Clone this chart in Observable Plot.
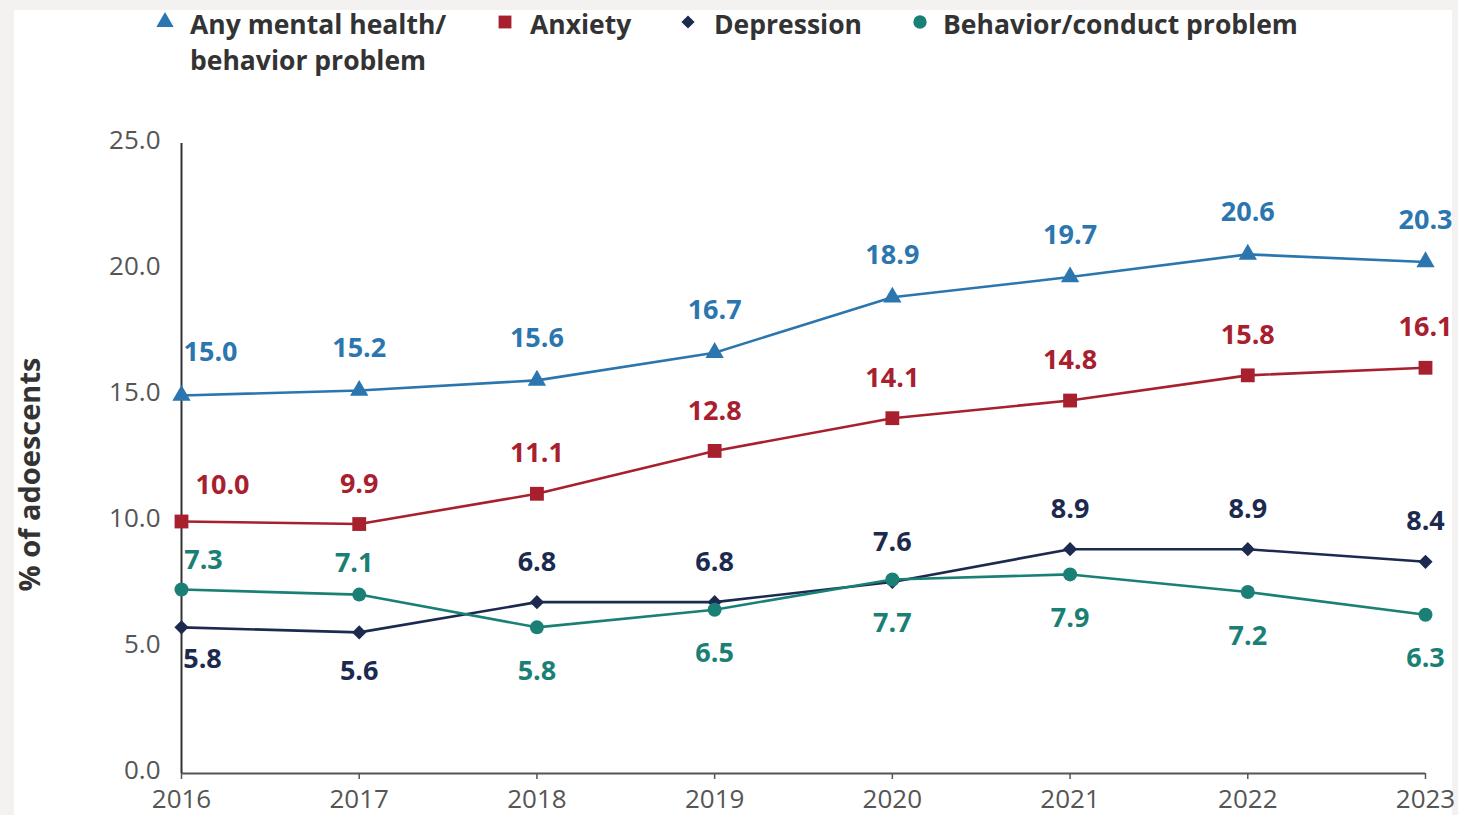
<!DOCTYPE html>
<html><head><meta charset="utf-8">
<script src="https://cdn.jsdelivr.net/npm/d3@7"></script>
<script src="https://cdn.jsdelivr.net/npm/@observablehq/plot@0.6"></script>
<style>
html,body{margin:0;padding:0;}
body{width:1458px;height:815px;background:#f3f2f0;overflow:hidden;position:relative;font-family:"Open Sans",sans-serif;}
#panel{position:absolute;left:14px;top:10px;width:1438px;height:805px;background:#fff;}
#legend{position:absolute;left:0;top:0;width:1438px;height:80px;}
.li{position:absolute;font-weight:700;font-size:26.5px;color:#333;line-height:28px;white-space:nowrap;}
.sym{position:absolute;overflow:visible;}
#chart{position:absolute;left:0;top:80px;}
</style></head><body>
<div id="panel"><div id="legend"></div><div id="chart"></div></div>
<script>
const years = [2016, 2017, 2018, 2019, 2020, 2021, 2022, 2023];
const anyMH = [15.0, 15.2, 15.6, 16.7, 18.9, 19.7, 20.6, 20.3];
const anxiety = [10.0, 9.9, 11.1, 12.8, 14.1, 14.8, 15.8, 16.1];
const depression = [5.8, 5.6, 6.8, 6.8, 7.6, 8.9, 8.9, 8.4];
const behavior = [7.3, 7.1, 5.8, 6.5, 7.7, 7.9, 7.2, 6.3];
const seriesNames = ["Any mental health/behavior problem", "Anxiety", "Depression", "Behavior/conduct problem"];
const legendLabels = [["Any mental health/", "behavior problem"], ["Anxiety"], ["Depression"], ["Behavior/conduct problem"]];
const yTicks = [0, 5, 10, 15, 20, 25];
const yTitle = "% of adoescents";

// styles
const colors = ["#2b76ae", "#a8202e", "#1c2a50", "#1a8075"];
const symbols = ["triangle", "square", "diamond2", "circle"];
const radii = [6.8, 7.8, 6.4, 7.0];

const seriesValues = [anyMH, anxiety, depression, behavior];
const rows = seriesNames.flatMap((s, i) => years.map((y, j) => ({series: s, idx: i, year: y, value: seriesValues[i][j]})));

function labelOffset(idx, year) {
  if (idx === 0) return year === 2016 ? [29, -43] : [0, -42];
  if (idx === 1) return year === 2016 ? [41, -36] : [0, -40];
  if (idx === 2) return year === 2016 ? [21, 32] : year === 2017 ? [0, 39] : [0, -40];
  return year === 2016 ? [22, -29] : year === 2017 ? [-5, -31] : [0, 44];
}

const labelMarks = [];
const groups = d3.group(rows, d => d.idx + "|" + labelOffset(d.idx, d.year).join(","));
for (const [key, g] of groups) {
  const idx = g[0].idx;
  const [dx, dy] = labelOffset(idx, g[0].year);
  labelMarks.push(Plot.text(g, {x: "year", y: "value", text: d => d.value.toFixed(1), dx, dy,
    fill: colors[idx], fontSize: 27, fontWeight: 700}));
}

const lineMarks = seriesNames.map((s, i) => Plot.line(rows.filter(d => d.idx === i), {x: "year", y: "value", stroke: colors[i], strokeWidth: 2.6}));
const dotMarks = seriesNames.map((s, i) => Plot.dot(rows.filter(d => d.idx === i), {x: "year", y: "value", symbol: () => symbols[i], fill: colors[i], stroke: "none", r: radii[i]}));

const chart = Plot.plot({
  width: 1438, height: 725,
  marginLeft: 167, marginRight: 27, marginTop: 53, marginBottom: 42,
  x: {type: "linear", domain: [2016, 2023]},
  y: {domain: [0, 25]},
  symbol: {type: "identity"},
  style: {fontFamily: "Open Sans", overflow: "visible", background: "transparent"},
  marks: [
    Plot.ruleY([0], {stroke: "#555", strokeWidth: 2}),
    Plot.axisX({ticks: years, tickFormat: d => String(d), tickSize: 6, tickPadding: 10, fontSize: 26, color: "#555", strokeWidth: 1.5, label: null}),
    Plot.axisY({ticks: yTicks, tickFormat: d => d.toFixed(1), tickSize: 0, tickPadding: 21, fontSize: 26, color: "#555", dy: -3, label: null}),
    Plot.ruleX([2016], {stroke: "#333", strokeWidth: 2}),
    ...lineMarks,
    ...dotMarks,
    ...labelMarks,
    Plot.text([yTitle], {text: d => d, frameAnchor: "left", textAnchor: "middle", rotate: -90, dx: -151, dy: 16, fontSize: 29, fontWeight: 700, fill: "#333"})
  ]
});
document.getElementById("chart").appendChild(chart);

// legend
const legend = document.getElementById("legend");
const symX = [151, 491, 674, 906];
const textX = [176, 516, 700, 929];
const legendSym = [d3.symbolTriangle, d3.symbolSquare, d3.symbolDiamond2, d3.symbolCircle];
const legendSize = [130, 165, 110, 140];
legendLabels.forEach((lines, i) => {
  const svg = d3.select(legend).append("svg").attr("class", "sym")
    .attr("width", 20).attr("height", 20)
    .style("left", (symX[i] - 10) + "px").style("top", (12 - 10) + "px");
  svg.append("path").attr("transform", "translate(10,10)")
    .attr("d", d3.symbol(legendSym[i], legendSize[i])()).attr("fill", colors[i]);
  lines.forEach((t, k) => {
    const div = document.createElement("div");
    div.className = "li";
    div.style.left = textX[i] + "px";
    div.style.top = (0 + k * 36) + "px";
    div.textContent = t;
    legend.appendChild(div);
  });
});
</script>
</body></html>
